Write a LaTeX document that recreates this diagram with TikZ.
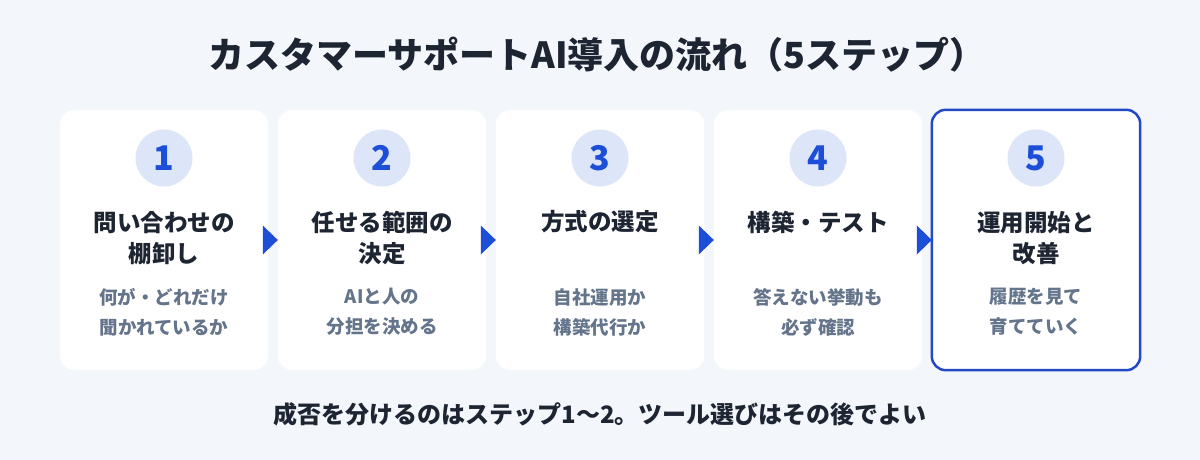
\documentclass[tikz,border=0pt]{standalone}
\usepackage{fontspec}
\setmainfont{Noto Sans CJK JP}
\usetikzlibrary{calc}
\definecolor{bg}{HTML}{F3F6FB}
\definecolor{circ}{HTML}{DCE6F8}
\definecolor{blue}{HTML}{1D4ED8}
\definecolor{dark}{HTML}{1E2532}
\definecolor{gray}{HTML}{64748B}
\definecolor{border}{HTML}{2449C6}
\tikzset{
  card/.style={fill=white, rounded corners=14pt, minimum width=208pt, minimum height=260pt, inner sep=0pt},
  numcirc/.style={circle, fill=circ, minimum size=57pt, inner sep=0pt, text=blue, font=\fontsize{34pt}{34pt}\selectfont\bfseries},
  ctitle/.style={text=dark, align=center, font=\fontsize{23.5pt}{31pt}\selectfont\bfseries},
  cdesc/.style={text=gray, align=center, font=\fontsize{18.5pt}{30pt}\selectfont\bfseries},
  tri/.style={fill=blue}
}
\begin{document}
\begin{tikzpicture}[x=1pt,y=-1pt]
\fill[bg] (0,0) rectangle (1200,460);
\useasboundingbox (0,0) rectangle (1200,460);
\node[text=dark, font=\fontsize{36pt}{36pt}\selectfont\bfseries] (title) at (597,55) {カスタマーサポートAI導入の流れ（5ステップ）};
\foreach \i/\t/\tl/\d in {
  1/{問い合わせの\\棚卸し}/2/{何が・どれだけ\\聞かれているか},
  2/{任せる範囲の\\決定}/2/{AIと人の\\分担を決める},
  3/{方式の選定}/1/{自社運用か\\構築代行か},
  4/{構築・テスト}/1/{答えない挙動も\\必ず確認},
  5/{運用開始と\\改善}/2/{履歴を見て\\育てていく}} {
  \pgfmathsetmacro{\cx}{164+218*(\i-1)}
  \node[card] (c\i) at (\cx,240) {};
  \node[numcirc] (n\i) at (\cx,158) {\i};
  \ifnum\tl=2
    \node[ctitle] (t\i) at (\cx,238) {\t};
  \else
    \node[ctitle] (t\i) at (\cx,222) {\t};
  \fi
  \node[cdesc] (d\i) at (\cx,312) {\d};
}
\draw[border, line width=2.5pt, rounded corners=14pt] (c5.south west) rectangle (c5.north east);
\foreach \a/\b in {1/2,2/3,3/4,4/5} {
  \fill[tri] (c\b.west) -- ($(c\b.west)+(-15,-14.5)$) -- ($(c\b.west)+(-15,14.5)$) -- cycle;
}
\node[text=dark, font=\fontsize{24pt}{24pt}\selectfont\bfseries] (foot) at (600,414) {成否を分けるのはステップ1〜2。ツール選びはその後でよい};
\end{tikzpicture}
\end{document}
